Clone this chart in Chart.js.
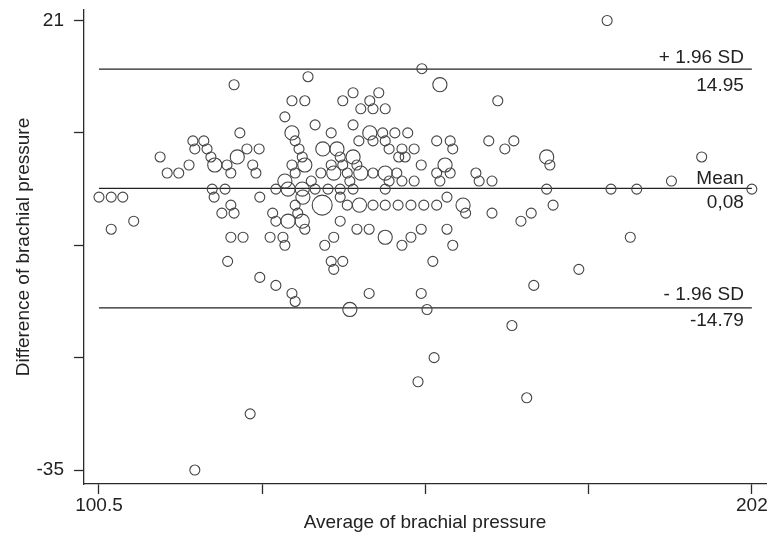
<!DOCTYPE html>
<html>
<head>
<meta charset="utf-8">
<script src="https://cdn.jsdelivr.net/npm/chart.js@4.4.1/dist/chart.umd.min.js"></script>
<style>
  html, body { margin: 0; padding: 0; background: #fff; }
  canvas { display: block; }
</style>
</head>
<body>
<canvas id="bland" width="769" height="534"></canvas>
<script>
// Bland-Altman: average vs difference of brachial pressure
// one entry per circle, written row by row (same difference on each line)
const avgPressure = [
  179.5,
  150.7,
  133.0,
  121.5, 153.5,
  140.0, 144.0,
  130.5, 132.5, 138.4, 142.6, 162.5,
  141.2, 143.1, 145.0,
  129.4,
  134.1, 140.0,
  122.4, 130.5, 136.6, 142.6, 144.6, 146.5, 148.5,
  115.1, 116.8, 131.0, 140.9, 143.1, 145.0, 153.0, 155.1, 161.1, 165.0,
  115.4, 117.3, 123.5, 125.4, 131.6, 135.3, 137.5, 145.6, 147.6, 149.5, 155.5, 163.6,
  110.0, 117.9, 122.0, 132.1, 138.0, 140.0, 147.1, 148.1, 170.1, 194.2,
  114.5, 118.5, 120.4, 124.4, 130.5, 132.5, 136.6, 138.4, 140.6, 150.6, 154.3, 170.6,
  111.1, 112.9, 121.0, 124.9, 131.0, 135.0, 137.0, 139.1, 141.2, 143.1, 145.0, 146.8, 153.0, 155.1, 159.1,
  129.4, 133.5, 139.5, 145.6, 147.6, 149.5, 153.5, 159.6, 161.6, 189.5,
  118.1, 120.1, 128.0, 129.9, 132.1, 134.1, 136.1, 138.0, 140.0, 145.0, 170.1, 180.1, 184.1, 202.0,
  100.5, 102.4, 104.2, 118.4, 125.5, 132.2, 138.0, 154.6,
  121.0, 131.0, 135.2, 139.1, 141.0, 143.1, 145.0, 147.0, 149.0, 151.0, 153.0, 157.1, 171.1,
  119.6, 121.5, 127.5, 131.4, 157.5, 161.6, 167.7,
  105.9, 128.0, 129.9, 132.1, 138.0, 166.1,
  102.4, 132.5, 140.6, 142.5, 150.6, 154.6,
  121.0, 122.9, 127.1, 129.1, 137.0, 145.0, 149.0, 183.1,
  129.4, 135.6, 147.6, 155.5,
  120.5, 136.6, 138.4, 152.4,
  137.0, 175.1,
  125.5,
  128.0, 168.1,
  130.5, 142.5, 150.6,
  131.0,
  139.5, 151.5,
  164.7,
  152.6,
  150.1,
  167.0,
  124.0,
  115.4
];
const diffPressure = [
  21,
  15,
  14,
  13, 13,
  12, 12,
  11, 11, 11, 11, 11,
  10, 10, 10,
  9,
  8, 8,
  7, 7, 7, 7, 7, 7, 7,
  6, 6, 6, 6, 6, 6, 6, 6, 6, 6,
  5, 5, 5, 5, 5, 5, 5, 5, 5, 5, 5, 5,
  4, 4, 4, 4, 4, 4, 4, 4, 4, 4,
  3, 3, 3, 3, 3, 3, 3, 3, 3, 3, 3, 3,
  2, 2, 2, 2, 2, 2, 2, 2, 2, 2, 2, 2, 2, 2, 2,
  1, 1, 1, 1, 1, 1, 1, 1, 1, 1,
  0, 0, 0, 0, 0, 0, 0, 0, 0, 0, 0, 0, 0, 0,
  -1, -1, -1, -1, -1, -1, -1, -1,
  -2, -2, -2, -2, -2, -2, -2, -2, -2, -2, -2, -2, -2,
  -3, -3, -3, -3, -3, -3, -3,
  -4, -4, -4, -4, -4, -4,
  -5, -5, -5, -5, -5, -5,
  -6, -6, -6, -6, -6, -6, -6, -6,
  -7, -7, -7, -7,
  -9, -9, -9, -9,
  -10, -10,
  -11,
  -12, -12,
  -13, -13, -13,
  -14,
  -15, -15,
  -17,
  -21,
  -24,
  -26,
  -28,
  -35
];
// number of coinciding observations behind each circle
const obsCount = [
  1,
  1,
  1,
  1, 2,
  1, 1,
  1, 1, 1, 1, 1,
  1, 1, 1,
  1,
  1, 1,
  1, 2, 1, 2, 1, 1, 1,
  1, 1, 1, 1, 1, 1, 1, 1, 1, 1,
  1, 1, 1, 1, 1, 2, 2, 1, 1, 1, 1, 1,
  1, 1, 2, 1, 1, 2, 1, 1, 2, 1,
  1, 2, 1, 1, 1, 2, 1, 1, 1, 1, 2, 1,
  1, 1, 1, 1, 1, 1, 2, 1, 2, 1, 2, 1, 1, 1, 1,
  2, 1, 1, 1, 1, 1, 1, 1, 1, 1,
  1, 1, 1, 2, 2, 1, 1, 1, 1, 1, 1, 1, 1, 1,
  1, 1, 1, 1, 1, 2, 1, 1,
  1, 1, 4, 1, 2, 1, 1, 1, 1, 1, 1, 2, 1,
  1, 1, 1, 1, 1, 1, 1,
  1, 1, 2, 2, 1, 1,
  1, 1, 1, 1, 1, 1,
  1, 1, 1, 1, 1, 2, 1, 1,
  1, 1, 1, 1,
  1, 1, 1, 1,
  1, 1,
  1,
  1, 1,
  1, 1, 1,
  1,
  2, 1,
  1,
  1,
  1,
  1,
  1,
  1
];

// agreement limits
const limitValues = [14.95, 0.08, -14.79];
const limitNames = ['+ 1.96 SD', 'Mean', '- 1.96 SD'];
const limitTexts = ['14.95', '0,08', '-14.79'];

const xTicks = [100.5, 125.875, 151.25, 176.625, 202];
const yTicks = [21, 7, -7, -21, -35];

const ink = '#2b2b2b';
const fontFamily = '"Liberation Sans", Arial, sans-serif';
const font19 = { family: fontFamily, size: 19 };

const points = avgPressure.map((a, i) => ({ x: a, y: diffPressure[i], r: 5 * Math.sqrt(obsCount[i]) }));

const limitSets = limitValues.map(v => ({
  type: 'line',
  data: [{ x: xTicks[0], y: v }, { x: xTicks[xTicks.length - 1], y: v }],
  borderColor: '#222',
  borderWidth: 1.3,
  pointRadius: 0,
  fill: false,
  order: 2
}));

// text above / below each limit line (baseline offsets in px)
const labelOffsets = [[-6, 22], [-4, 20], [-8, 18]];
const limitLabels = {
  id: 'limitLabels',
  afterDatasetsDraw(chart) {
    const { ctx, scales } = chart;
    const xr = scales.x.getPixelForValue(xTicks[xTicks.length - 1]) - 8;
    ctx.save();
    ctx.fillStyle = '#222';
    ctx.font = '19px ' + fontFamily;
    ctx.textAlign = 'right';
    ctx.textBaseline = 'alphabetic';
    limitValues.forEach((v, i) => {
      const y = scales.y.getPixelForValue(v);
      ctx.fillText(limitNames[i], xr, y + labelOffsets[i][0]);
      ctx.fillText(limitTexts[i], xr, y + labelOffsets[i][1]);
    });
    ctx.restore();
  }
};

const endLabel = (v, i, t) => (i === 0 || i === t.length - 1) ? String(v) : '';

new Chart(document.getElementById('bland'), {
  type: 'bubble',
  data: {
    datasets: [
      {
        data: points,
        backgroundColor: 'rgba(0,0,0,0)',
        borderColor: '#444',
        borderWidth: 1.1,
        clip: false,
        order: 1
      },
      ...limitSets
    ]
  },
  options: {
    responsive: false,
    animation: false,
    devicePixelRatio: 1,
    layout: { autoPadding: false, padding: { top: 10, right: 3, left: 0, bottom: 0 } },
    plugins: { legend: { display: false }, tooltip: { enabled: false } },
    scales: {
      x: {
        type: 'linear',
        min: 98.17,
        max: 204.2,
        afterFit: s => { s.height = 50; s.paddingLeft = 0; s.paddingRight = 0; },
        afterBuildTicks: s => { s.ticks = xTicks.map(v => ({ value: v })); },
        ticks: { autoSkip: false, maxRotation: 0, padding: 0, color: '#222', font: font19, callback: endLabel },
        grid: { drawOnChartArea: false, tickLength: 10, tickColor: ink, tickWidth: 1.3 },
        border: { color: ink, width: 1.3 },
        title: { display: true, text: 'Average of brachial pressure', color: '#222', font: font19, padding: { top: 0, bottom: 0 } }
      },
      y: {
        type: 'linear',
        min: -36.74,
        max: 22.31,
        afterFit: s => { s.width = 84; s.paddingTop = 0; s.paddingBottom = 0; },
        afterBuildTicks: s => { s.ticks = yTicks.map(v => ({ value: v })); },
        ticks: { autoSkip: false, padding: 10, color: '#222', font: font19, callback: endLabel },
        grid: { drawOnChartArea: false, tickLength: 10, tickColor: ink, tickWidth: 1.3 },
        border: { color: ink, width: 1.3 },
        title: { display: true, text: 'Difference of brachial pressure', color: '#222', font: font19, padding: { top: 12, bottom: 0 } }
      }
    }
  },
  plugins: [limitLabels]
});
</script>
</body>
</html>
